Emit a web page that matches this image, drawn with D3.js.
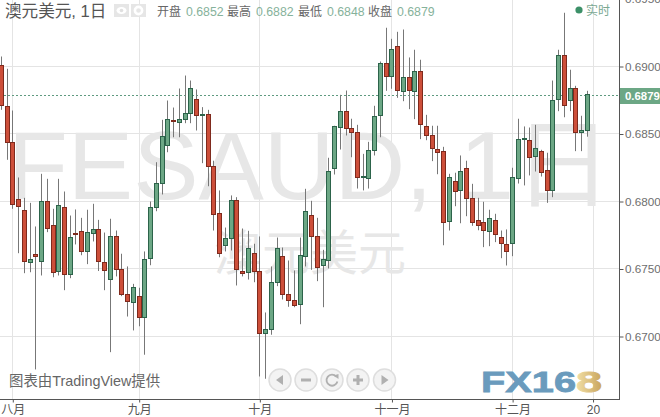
<!DOCTYPE html>
<html><head><meta charset="utf-8">
<script src="https://cdn.jsdelivr.net/npm/d3@7/dist/d3.min.js"></script>
<style>html,body{margin:0;padding:0;background:#fff;overflow:hidden}svg{display:block}text{font-family:"Liberation Sans","Noto Sans CJK SC",sans-serif}</style>
</head><body><svg id="c" width="660" height="417"></svg>
<script>
const opens=[.69005,.68704,.68435,.68013,.67931,.67543,.67605,.67553,.67998,.67820,.67476,.67953,.67457,.67761,.67776,.67625,.67761,.67790,.67548,.67420,.67739,.67494,.67309,.67250,.67294,.67139,.67576,.67953,.68131,.68413,.68598,.68580,.68605,.68650,.68753,.68632,.68642,.68262,.67909,.67672,.67724,.68005,.67479,.67472,.67613,.67479,.67020,.67050,.67398,.67590,.67309,.67265,.67233,.67590,.67894,.67739,.67524,.67561,.68242,.68546,.68664,.68539,.68509,.68176,.68168,.68376,.68635,.69020,.68924,.69146,.68813,.68916,.68813,.68961,.68553,.68487,.68383,.68368,.67850,.68146,.68079,.68242,.68020,.67857,.67842,.67776,.67857,.67731,.67679,.67687,.68168,.68457,.68450,.68328,.68368,.68227,.68079,.68753,.69079,.68746,.68835,.68509,.6852];
const highs=[.69074,.68983,.68674,.68178,.68027,.67990,.67815,.68205,.68168,.67946,.68168,.68074,.67896,.67941,.67879,.67939,.67983,.67864,.67770,.67872,.67785,.67613,.67519,.67390,.67361,.67630,.68000,.68291,.68605,.68748,.68696,.68837,.68933,.68896,.68830,.68699,.68679,.68302,.68082,.67807,.68045,.68032,.67800,.67783,.67687,.67741,.67178,.67519,.67733,.67659,.67563,.67489,.67733,.68094,.68005,.67879,.67642,.68324,.68561,.68790,.68822,.68613,.68568,.68353,.68442,.68709,.69037,.69287,.69205,.69257,.69274,.69067,.69124,.69050,.68642,.68561,.68561,.68405,.68205,.68213,.68341,.68302,.68131,.68027,.67998,.67939,.67909,.67785,.67793,.68250,.68613,.68556,.68548,.68568,.68383,.68361,.68896,.69124,.69398,.68976,.68857,.68635,.6882];
const lows=[.68679,.68309,.67946,.67617,.67469,.67476,.66756,.67452,.67773,.67439,.67452,.67343,.67432,.67682,.67602,.67536,.67704,.67485,.67343,.66884,.67445,.67299,.67148,.67045,.67076,.66865,.67528,.67928,.68052,.68365,.68476,.68476,.68580,.68580,.68526,.68284,.68113,.67785,.67587,.67630,.67637,.67378,.67445,.67422,.67402,.66704,.66687,.67013,.67373,.67274,.67220,.67217,.67091,.67519,.67494,.67410,.67217,.67504,.68200,.68385,.68489,.68328,.68096,.68082,.68096,.68341,.68476,.68820,.68835,.68768,.68743,.68684,.68610,.68462,.68454,.68299,.68202,.67676,.67785,.67965,.67839,.67891,.67820,.67787,.67662,.67669,.67699,.67580,.67526,.67595,.68133,.68119,.68193,.68222,.68185,.67990,.68032,.68669,.68624,.68669,.68373,.68373,.6848];
const closes=[.68709,.68435,.67976,.67958,.67553,.67568,.67587,.67998,.67798,.67472,.67968,.67457,.67731,.67750,.67625,.67768,.67790,.67553,.67491,.67739,.67491,.67309,.67257,.67361,.67136,.67568,.67953,.68131,.68479,.68605,.68590,.68605,.68650,.68835,.68635,.68642,.68257,.67909,.67613,.67724,.68005,.67494,.67465,.67650,.67479,.67020,.67050,.67398,.67650,.67309,.67265,.67225,.67598,.67924,.67739,.67509,.67568,.68220,.68553,.68664,.68539,.68509,.68176,.68183,.68376,.68627,.69020,.68924,.69124,.68820,.68916,.68820,.68961,.68568,.68487,.68390,.68361,.67842,.68176,.68072,.68220,.68020,.67842,.67820,.67783,.67872,.67753,.67687,.67627,.68176,.68457,.68464,.68324,.68390,.68213,.68079,.68746,.69079,.68709,.68835,.68509,.68524,.6879];

const priceTicks=[0.67,0.675,0.68,0.685,0.69,0.695];
const timeLabels=["八月","九月","十月","十一月","十二月","20"];
const timeIdx=[2,24,45,68,89,103];
const title="澳元美元, 1日";
const ohlcNames=["开盘","最高","最低","收盘"];
const ohlcVals=["0.6852","0.6882","0.6848","0.6879"];
const lastPrice=0.6879;

const UP="#6ca785",UPB="#2c634a",DN="#cd4f3a",DNB="#7f2a1d",WICK="#777";
const svg=d3.select("#c");
const x=d3.scaleLinear().domain([0,102]).range([1.3,587.3]);
const y=d3.scaleLinear().domain([0.67,0.69]).range([336.5,66.5]);
const snap=v=>Math.floor(v)+0.5;

// grid
const grid=svg.append("g").attr("stroke","#e4e4e4").attr("stroke-width",1);
grid.selectAll(".h").data(priceTicks.slice(0,5)).join("line").attr("x1",0).attr("x2",619).attr("y1",d=>snap(y(d))).attr("y2",d=>snap(y(d)));
grid.selectAll(".v").data(timeIdx).join("line").attr("y1",0).attr("y2",399).attr("x1",d=>snap(x(d))).attr("x2",d=>snap(x(d)));

// watermark
svg.append("text").attr("x",8).attr("y",199).attr("font-size",97).attr("fill","#e7e7e7").attr("textLength",604).attr("lengthAdjust","spacingAndGlyphs").text("FESAUD, 1日");
svg.append("text").attr("x",214).attr("y",270).attr("font-size",48).attr("fill","#e7e7e7").text("澳元美元");

// price line
const py=Math.round(y(lastPrice))+0.5;
svg.append("line").attr("x1",0).attr("x2",620).attr("y1",py).attr("y2",py).attr("stroke","#5f9a80").attr("stroke-dasharray","2,2");

// candles
const idx=d3.range(opens.length);
const g=svg.append("g");
g.selectAll(".w").data(idx).join("line").attr("stroke",WICK).attr("stroke-width",1)
 .attr("x1",i=>snap(x(i))).attr("x2",i=>snap(x(i))).attr("y1",i=>y(highs[i])).attr("y2",i=>y(lows[i]));
g.selectAll(".b").data(idx).join("rect")
 .attr("x",i=>snap(x(i))-2).attr("width",4)
 .attr("y",i=>snap(y(Math.max(opens[i],closes[i]))))
 .attr("height",i=>Math.max(0.5,Math.round(Math.abs(y(opens[i])-y(closes[i])))))
 .attr("fill",i=>closes[i]>=opens[i]?UP:DN)
 .attr("stroke",i=>closes[i]>=opens[i]?UPB:DNB).attr("stroke-width",1);

// axes
const yAxis=d3.axisRight(y).tickValues(priceTicks).tickFormat(d3.format(".4f")).tickSize(4).tickPadding(1.5);
const ya=svg.append("g").attr("transform","translate(619.5,0)").call(yAxis);
ya.select(".domain").attr("d","M0,0V399").attr("stroke","#555");
ya.selectAll("line").attr("stroke","#555");
ya.selectAll("text").attr("fill","#6e6e6e").attr("font-size",11.7).style("font-family",'"Liberation Sans",sans-serif');

const xb=d3.scaleOrdinal().domain(timeIdx).range(timeIdx.map(d=>x(d)));
const xAxis=d3.axisBottom(xb).tickValues(timeIdx).tickFormat((d,i)=>timeLabels[i]).tickSize(3).tickPadding(3);
const xa=svg.append("g").attr("transform","translate(0,399.5)").call(xAxis);
xa.select(".domain").attr("d","M0,0H620").attr("stroke","#555");
xa.selectAll("line").attr("stroke","#555");
xa.selectAll("text").attr("fill","#555").attr("font-size",12).style("font-family",'"Liberation Sans","Noto Sans CJK SC",sans-serif');

// price tag
svg.append("rect").attr("x",620).attr("y",88).attr("width",40).attr("height",16).attr("fill","#6ca785");
svg.append("text").attr("x",625).attr("y",100).attr("font-size",11.4).attr("font-weight","bold").attr("fill","#fff").text(d3.format(".4f")(lastPrice));

// header
svg.append("text").attr("x",5).attr("y",17).attr("font-size",16.6).attr("fill","#555").text(title);
const iconX=[114,131];
svg.selectAll(".ic").data(iconX).join("rect").attr("x",d=>d).attr("y",4).attr("width",15).attr("height",13).attr("fill","#e6e6e6");
svg.append("ellipse").attr("cx",121.5).attr("cy",10.5).attr("rx",5).attr("ry",3.5).attr("fill","#fff");
svg.append("circle").attr("cx",121.5).attr("cy",10.5).attr("r",1.8).attr("fill","#e0e0e0");
svg.append("circle").attr("cx",138.5).attr("cy",10.5).attr("r",3.6).attr("fill","none").attr("stroke","#fff").attr("stroke-width",2.6);
const labX=[157,227,298,368],valX=[186,256,327,397];
svg.selectAll(".ol").data(ohlcNames).join("text").attr("x",(d,i)=>labX[i]).attr("y",16).attr("font-size",12).attr("fill","#666").text(d=>d);
svg.selectAll(".ov").data(ohlcVals).join("text").attr("x",(d,i)=>valX[i]).attr("y",16).attr("font-size",12.3).attr("fill","#86b29b").text(d=>d);
svg.append("circle").attr("cx",579).attr("cy",10).attr("r",3.6).attr("fill","#3c9068");
svg.append("text").attr("x",586).attr("y",14.5).attr("font-size",12).attr("fill","#7aa892").text("实时");

// credit
svg.append("text").attr("x",9).attr("y",386).attr("font-size",14.4).attr("fill","#666").text("图表由TradingView提供");

// nav buttons
const btnX=[280,306,332,358,384.5];
const btn=svg.selectAll(".n").data(btnX).join("g").attr("transform",d=>`translate(${d},380)`);
btn.append("circle").attr("r",11).attr("fill","#f3f3f3").attr("stroke","#dedede").attr("stroke-width",1.5);
const ic="#b0b0b0";
d3.select(btn.nodes()[0]).append("path").attr("d","M3,-5V5L-4,0Z").attr("fill",ic);
d3.select(btn.nodes()[1]).append("rect").attr("x",-5).attr("y",-1.5).attr("width",10).attr("height",3).attr("fill",ic);
d3.select(btn.nodes()[2]).append("path").attr("d","M4.2,-3.4A5.5,5.5 0 1 0 5.4,1.5").attr("fill","none").attr("stroke",ic).attr("stroke-width",1.8);
d3.select(btn.nodes()[2]).append("path").attr("d","M1.5,-4.5L6.5,-6V-1Z").attr("fill",ic);
d3.select(btn.nodes()[3]).append("path").attr("d","M-5,-1.5H-1.5V-5H1.5V-1.5H5V1.5H1.5V5H-1.5V1.5H-5Z").attr("fill",ic);
d3.select(btn.nodes()[4]).append("path").attr("d","M-3,-5V5L4,0Z").attr("fill",ic);

// logo
const defs=svg.append("defs");
const lg=defs.append("linearGradient").attr("id","gold").attr("x1",0).attr("x2",1).attr("y1",0).attr("y2",0);
lg.append("stop").attr("offset","0").attr("stop-color","#f1dfa6");
lg.append("stop").attr("offset","1").attr("stop-color","#c9a45c");
svg.append("text").attr("x",481).attr("y",392).attr("font-size",30).attr("font-weight","bold").attr("fill","#6a9bbd").attr("stroke","#6a9bbd").attr("stroke-width",0.8).attr("textLength",95).attr("lengthAdjust","spacingAndGlyphs").text("FX16");
svg.append("text").attr("x",576).attr("y",392).attr("font-size",30).attr("font-weight","bold").attr("fill","url(#gold)").attr("stroke","url(#gold)").attr("stroke-width",0.8).attr("textLength",26).attr("lengthAdjust","spacingAndGlyphs").text("8");
</script></body></html>
